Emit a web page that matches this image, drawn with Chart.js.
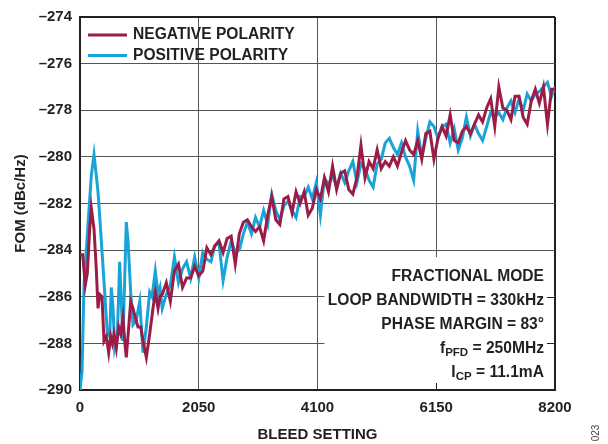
<!DOCTYPE html>
<html>
<head>
<meta charset="utf-8">
<script src="https://cdn.jsdelivr.net/npm/chart.js@4"></script>
<style>
  body { margin: 0; background: #fff; }
  #wrap { width: 608px; height: 444px; }
</style>
</head>
<body>
<div id="wrap"><canvas id="fomChart" width="608" height="444"></canvas></div>
<script>
// bleed setting / FOM readings, start of the sweep (irregular spacing)
const negBleedStart = [0, 47, 91, 126, 167, 195, 242, 281, 311, 340, 380, 414, 454, 495, 530, 558, 587, 627, 668, 703,
    742, 772, 799, 841, 875, 915, 955, 1001, 1048, 1088, 1145, 1203, 1260, 1300, 1347, 1381];
const negFomStart = [-284.2, -284.2, -285.5, -285.0, -283.1, -282.2, -283.1, -284.8, -286.5, -285.9, -286.0, -287.9, -287.7, -288.4, -287.7, -288.0, -287.6, -288.2, -287.3, -287.6,
    -286.9, -287.9, -288.6, -287.3, -286.2, -286.5, -286.9, -287.3, -287.3, -287.9, -288.6, -287.6, -286.5, -285.8, -286.5, -286.0];

const posBleedStart = [0, 35, 69, 138, 195, 242, 311, 368, 426, 471, 513, 540, 570, 599, 644, 685, 713, 742, 799, 829,
    875, 915, 972, 1031, 1088, 1145, 1203, 1243, 1300, 1347, 1381];
const posFomStart = [-290, -289.2, -285.5, -282.9, -280.8, -279.9, -281.5, -283.6, -285.8, -287.6, -287.7, -285.6, -286.5, -288.2, -287.7, -284.5, -286.2, -287.9, -282.8, -283.6,
    -285.8, -287.2, -287.0, -286.2, -288.4, -287.3, -285.8, -286.0, -284.9, -285.9, -285.6];

// rest of the sweep, shared bleed settings
const bleedTail = [1420, 1490, 1560, 1630, 1700, 1770, 1840, 1910, 1980, 2050,
    2120, 2190, 2260, 2330, 2400, 2470, 2540, 2610, 2680, 2750,
    2820, 2890, 2960, 3030, 3100, 3170, 3240, 3310, 3380, 3450,
    3520, 3590, 3660, 3730, 3800, 3870, 3940, 4010, 4080, 4150,
    4220, 4290, 4360, 4430, 4500, 4570, 4640, 4710, 4780, 4850,
    4920, 4990, 5060, 5130, 5200, 5270, 5340, 5410, 5480, 5550,
    5620, 5690, 5760, 5830, 5900, 5970, 6040, 6110, 6180, 6250,
    6320, 6390, 6460, 6530, 6600, 6670, 6740, 6810, 6880, 6950,
    7020, 7090, 7160, 7230, 7300, 7370, 7440, 7510, 7580, 7650,
    7720, 7790, 7860, 7930, 8000, 8070, 8140, 8200];
const negFomTail = [-285.9, -285.4, -286.2, -284.9, -284.6, -285.6, -285.2, -285.2, -284.7, -285.1,
    -284.9, -283.9, -284.2, -283.8, -283.6, -284.1, -283.5, -283.4, -284.6, -283.3,
    -282.8, -282.7, -283.0, -283.2, -283.0, -283.6, -282.5, -281.7, -282.7, -282.9,
    -281.8, -281.7, -282.4, -281.5, -282.0, -281.5, -282.5, -282.2, -281.4, -281.8,
    -280.9, -281.5, -280.4, -281.4, -280.7, -280.6, -281.4, -281.6, -280.9, -279.5,
    -280.9, -280.2, -280.5, -279.7, -280.5, -280.2, -280.4, -280.0, -280.4, -279.8,
    -279.3, -279.7, -279.9, -279.3, -280.1, -279.0, -278.9, -280.1, -279.2, -278.7,
    -279.1, -278.2, -279.3, -279.4, -278.9, -278.7, -279.0, -278.6, -278.2, -278.5,
    -277.9, -277.5, -278.7, -277.0, -277.9, -278.0, -278.4, -277.4, -277.4, -278.3,
    -278.6, -277.6, -277.1, -277.7, -277.0, -278.6, -277.1, -277.1];
const posFomTail = [-286.5, -285.9, -285.5, -284.3, -285.4, -284.8, -284.5, -285.2, -284.3, -285.2,
    -284.1, -284.4, -284.5, -283.8, -283.7, -285.3, -284.3, -283.6, -284.1, -284.0,
    -283.3, -282.8, -283.3, -282.6, -283.0, -282.3, -282.9, -281.6, -282.3, -282.7,
    -282.1, -281.9, -282.3, -282.6, -281.7, -281.7, -281.3, -281.8, -281.1, -282.5,
    -280.9, -281.2, -280.8, -281.3, -280.7, -281.1, -280.6, -280.2, -281.1, -280.3,
    -280.5, -281.0, -281.3, -280.3, -280.1, -279.4, -279.2, -279.6, -279.9, -279.4,
    -280.0, -280.4, -281.0, -278.9, -280.0, -279.2, -278.5, -278.7, -279.2, -278.7,
    -278.6, -279.4, -278.8, -279.7, -279.2, -278.3, -279.1, -278.6, -279.0, -279.3,
    -278.7, -278.1, -278.3, -278.1, -278.4, -277.9, -277.6, -278.1, -277.5, -278.0,
    -277.3, -277.6, -277.3, -277.2, -277.0, -276.8, -277.4, -277.0];

const xTicks = [0, 2050, 4100, 6150, 8200];
const seriesNames = ['NEGATIVE POLARITY', 'POSITIVE POLARITY'];
const seriesColors = ['#9c1c48', '#18a3d9'];
const noteLines = [
    [{ t: 'FRACTIONAL MODE' }],
    [{ t: 'LOOP BANDWIDTH = 330kHz' }],
    [{ t: 'PHASE MARGIN = 83°' }],
    [{ t: 'f' }, { t: 'PFD', sub: true }, { t: ' = 250MHz' }],
    [{ t: 'I' }, { t: 'CP', sub: true }, { t: ' = 11.1mA' }]
];

const ink = '#231f20';
const family = '"Liberation Sans", Arial, Helvetica, sans-serif';
const boldFont = { family: family, size: 15, weight: 'bold' };
const bigText = 'bold 15.6px ' + family;
const subText = 'bold 11.5px ' + family;

function toPoints(xs, ys) {
    return xs.map((x, i) => ({ x: x, y: ys[i] }));
}

const negData = toPoints(negBleedStart.concat(bleedTail), negFomStart.concat(negFomTail));
const posData = toPoints(posBleedStart.concat(bleedTail), posFomStart.concat(posFomTail));

// legend, notes box, small ticks and the figure number
const extras = {
    id: 'extras',
    beforeDatasetsDraw(chart) {
        const { ctx, chartArea: a, scales: { x, y } } = chart;
        ctx.save();
        // white panel behind the notes hides the grid there
        const bx = x.getPixelForValue(4220);
        const by = y.getPixelForValue(-284.3);
        ctx.fillStyle = '#fff';
        ctx.fillRect(bx, by, a.right - 1 - bx, a.bottom - 1 - by);
        // little inward ticks that stay visible on the frame
        ctx.strokeStyle = ink;
        ctx.lineWidth = 1;
        ctx.beginPath();
        [-286, -288].forEach(v => {
            const py = Math.round(y.getPixelForValue(v)) + 0.5;
            ctx.moveTo(a.right - 8, py);
            ctx.lineTo(a.right, py);
        });
        const tx = Math.round(x.getPixelForValue(6150)) + 0.5;
        ctx.moveTo(tx, a.bottom - 7);
        ctx.lineTo(tx, a.bottom);
        ctx.stroke();
        ctx.restore();
    },
    afterDraw(chart) {
        const { ctx, chartArea: a } = chart;
        ctx.save();
        ctx.font = bigText;
        ctx.textBaseline = 'middle';
        ctx.fillStyle = ink;
        // legend
        seriesNames.forEach((name, i) => {
            const ly = a.top + 18 + i * 20.5;
            ctx.strokeStyle = seriesColors[i];
            ctx.lineWidth = 3;
            ctx.beginPath();
            ctx.moveTo(a.left + 8, ly);
            ctx.lineTo(a.left + 47, ly);
            ctx.stroke();
            ctx.textAlign = 'left';
            ctx.fillText(name, a.left + 53, ly);
        });
        // notes, right aligned
        const rightX = a.right - 11;
        noteLines.forEach((parts, i) => {
            const ly = 276.5 + i * 24;
            let total = 0;
            parts.forEach(p => {
                ctx.font = p.sub ? subText : bigText;
                total += ctx.measureText(p.t).width;
            });
            let px = rightX - total;
            ctx.textAlign = 'left';
            parts.forEach(p => {
                ctx.font = p.sub ? subText : bigText;
                ctx.fillText(p.t, px, p.sub ? ly + 4 : ly);
                px += ctx.measureText(p.t).width;
            });
        });
        // figure number on the right edge
        ctx.translate(596, 433);
        ctx.rotate(-Math.PI / 2);
        ctx.font = '10px ' + family;
        ctx.fillStyle = '#444';
        ctx.textAlign = 'center';
        ctx.fillText('023', 0, 0);
        ctx.restore();
    }
};

function frameColor(edgeValues) {
    return c => (c.tick && edgeValues.includes(c.tick.value)) ? ink : '#555';
}
function frameWidth(edgeValues) {
    return c => (c.tick && edgeValues.includes(c.tick.value)) ? 2 : 1;
}

new Chart(document.getElementById('fomChart'), {
    type: 'line',
    data: {
        datasets: [
            { label: seriesNames[0], data: negData, borderColor: seriesColors[0], borderWidth: 3, pointRadius: 0, tension: 0 },
            { label: seriesNames[1], data: posData, borderColor: seriesColors[1], borderWidth: 3, pointRadius: 0, tension: 0 }
        ]
    },
    options: {
        responsive: false,
        animation: false,
        layout: { padding: { top: 12, right: 53, left: 0, bottom: 0 } },
        plugins: {
            legend: { display: false },
            tooltip: { enabled: false }
        },
        scales: {
            x: {
                type: 'linear',
                min: 0,
                max: 8200,
                afterBuildTicks: s => { s.ticks = xTicks.map(v => ({ value: v })); },
                afterFit: s => { s.height = 54; },
                ticks: { font: boldFont, color: ink, padding: 9, maxRotation: 0, autoSkip: false, callback: v => String(v) },
                grid: { color: frameColor([0, 8200]), lineWidth: frameWidth([0, 8200]), drawTicks: false },
                border: { color: ink, width: 2 },
                title: { display: true, text: 'BLEED SETTING', font: boldFont, color: ink, padding: { top: 0, bottom: 0 } }
            },
            y: {
                min: -290,
                max: -274,
                afterFit: s => { s.width = 80; },
                ticks: {
                    stepSize: 2,
                    font: boldFont,
                    color: ink,
                    padding: 8,
                    callback: v => '\u2013' + Math.abs(v)
                },
                grid: { color: frameColor([-274, -290]), lineWidth: frameWidth([-274, -290]), drawTicks: false },
                border: { color: ink, width: 2 },
                title: { display: true, text: 'FOM (dBc/Hz)', font: boldFont, color: ink, padding: { top: 12, bottom: 0 } }
            }
        }
    },
    plugins: [extras]
});
</script>
</body>
</html>
